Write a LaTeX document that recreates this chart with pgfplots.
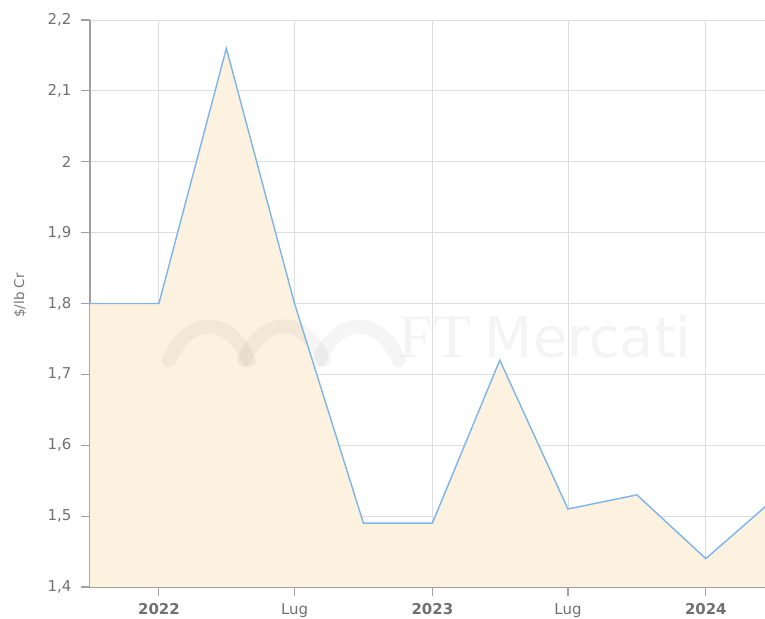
\documentclass[border=0pt]{standalone}
\usepackage{fontspec}
\setmainfont{DejaVu Sans}
\setsansfont{DejaVu Sans}
\newfontfamily\serifwm{Liberation Serif}
\usepackage{pgfplots}
\pgfplotsset{compat=1.18}
\definecolor{linec}{HTML}{7CB5EC}
\definecolor{fillc}{HTML}{FDF1E0}
\definecolor{gridc}{HTML}{DDDDDD}
\definecolor{axc}{HTML}{A0A0A0}
\definecolor{labc}{HTML}{707070}
\begin{document}
\begin{tikzpicture}
\begin{axis}[
  name=ax,
  scale only axis, width=675bp, height=567bp,
  xmin=-92, xmax=809, ymin=1.4, ymax=2.2,
  axis lines=left,
  axis line style={axc, line width=1.3bp, -},
  xtick={0,181,365,546,730},
  xticklabels={\textbf{2022},Lug,\textbf{2023},Lug,\textbf{2024}},
  ytick={1.4,1.5,1.6,1.7,1.8,1.9,2.0,2.1,2.2},
  grid=major,
  major grid style={gridc, line width=0.9bp},
  tick align=outside, major tick length=9bp,
  tick style={axc, line width=1.1bp},
  ticklabel style={font=\fontsize{15}{17}\selectfont, text=labc},
  xticklabel style={yshift=-4bp},
  yticklabel style={xshift=-6bp, /pgf/number format/.cd, fixed, precision=1, use comma},
  /pgf/number format/assume math mode=true,
  ylabel={\$/lb Cr},
  ylabel style={font=\fontsize{13.5}{15}\selectfont, text=labc, at={(axis description cs:0,0.5)}, anchor=center, xshift=8bp, yshift=70bp},
  clip=true,
]
\addplot[draw=none, fill=fillc] coordinates {
  (-92,1.80) (0,1.80) (90,2.16) (181,1.80) (273,1.49) (365,1.49)
  (455,1.72) (546,1.51) (638,1.53) (730,1.44) (821,1.524)
} \closedcycle;
% watermark
\node[anchor=west, text=black, opacity=0.045, inner sep=0pt] at (axis cs:320,1.753)
  {{\serifwm\fontsize{62}{62}\selectfont FT}\hspace{14bp}{\fontsize{56}{56}\selectfont Mercati}};
\begin{scope}[shift={(axis cs:40,1.72)}, x=1bp, y=1bp, line width=14bp, opacity=0.04, line cap=round]
  \draw (-20,0) .. controls (0,45) and (40,45) .. (60,0);
  \draw (55,0) .. controls (75,45) and (115,45) .. (135,0);
  \draw (130,0) .. controls (150,45) and (190,45) .. (210,0);
\end{scope}
\addplot[linec, line width=1.4bp] coordinates {
  (-92,1.80) (0,1.80) (90,2.16) (181,1.80) (273,1.49) (365,1.49)
  (455,1.72) (546,1.51) (638,1.53) (730,1.44) (821,1.524)
};
\end{axis}
\pgfresetboundingbox
\path ([xshift=-90bp,yshift=-32bp]ax.south west) rectangle ([yshift=20bp]ax.north east);
\end{tikzpicture}
\end{document}
